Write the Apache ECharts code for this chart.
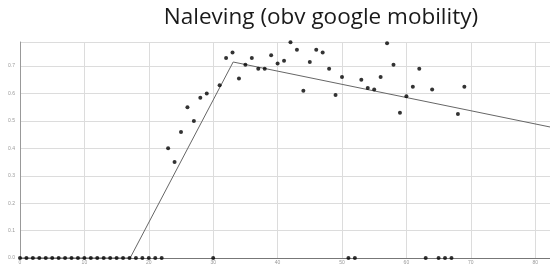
<!DOCTYPE html>
<html>
<head>
<meta charset="utf-8">
<script src="https://cdn.jsdelivr.net/npm/echarts@6/dist/echarts.min.js"></script>
<style>
html,body{margin:0;padding:0;background:#fff;}
#c{width:550px;height:265px;}
</style>
</head>
<body>
<div id="c"></div>
<script>
// Observed compliance points (day, value)
var pointDays = [0,1,2,3,4,5,6,7,8,9,10,11,12,13,14,15,16,17,18,19,20,21,22,
  23,24,25,26,27,28,29,30,
  31,32,33,34,35,36,37,38,39,40,41,42,43,44,45,46,47,48,49,50,
  51,52,53,54,55,56,57,58,59,60,61,62,63,64,65,66,67,68,69];
var pointValues = [0,0,0,0,0,0,0,0,0,0,0,0,0,0,0,0,0,0,0,0,0,0,0,
  0.40,0.35,0.46,0.55,0.50,0.585,0.60,0,
  0.63,0.73,0.75,0.655,0.705,0.73,0.69,0.69,0.74,0.71,0.72,0.787,0.76,0.61,0.715,0.76,0.75,0.69,0.595,0.66,
  0,0,0.65,0.62,0.615,0.66,0.783,0.705,0.53,0.59,0.625,0.69,0,0.615,0,0,0,0.525,0.625];
// Fitted piecewise line
var lineX = [0, 17.1, 33.1, 82.3];
var lineY = [0, 0, 0.715, 0.478];
var titleText = 'Naleving (obv google mobility)';

var scatterData = pointDays.map(function(d,i){return [d, pointValues[i]];});
var lineData = lineX.map(function(x,i){return [x, lineY[i]];});

var chart = echarts.init(document.getElementById('c'));
chart.setOption({
  animation:false,
  backgroundColor:'#fff',
  title:{
    text:titleText, left:316, top:1, textAlign:'center',
    textStyle:{fontFamily:'Open Sans', fontWeight:'normal', fontSize:22.5, color:'#1a1a1a'}
  },
  grid:{left:20, right:0, top:42, bottom:7, containLabel:false},
  xAxis:{
    type:'value', min:0, max:82.3, interval:10,
    axisLine:{show:true, onZero:false, lineStyle:{color:'#777', width:1}},
    axisTick:{show:false},
    axisLabel:{show:true, fontSize:5, color:'#999', margin:2, showMaxLabel:false, showMinLabel:true},
    splitLine:{show:true, lineStyle:{color:'#dcdcdc', width:1}}
  },
  yAxis:{
    type:'value', min:0, max:0.788, interval:0.1,
    axisLine:{show:true, lineStyle:{color:'#999', width:1}},
    axisTick:{show:false},
    axisLabel:{show:true, fontSize:5, color:'#999', margin:5, showMaxLabel:false,
      formatter:function(v){return v.toFixed(1);}},
    splitLine:{show:true, lineStyle:{color:'#dcdcdc', width:1}}
  },
  series:[
    {type:'line', data:lineData, showSymbol:false, symbol:'none',
     lineStyle:{color:'#666', width:1}, z:2},
    {type:'scatter', data:scatterData, symbol:'circle', symbolSize:4,
     itemStyle:{color:'#000'}, z:3}
  ]
});
</script>
</body>
</html>
